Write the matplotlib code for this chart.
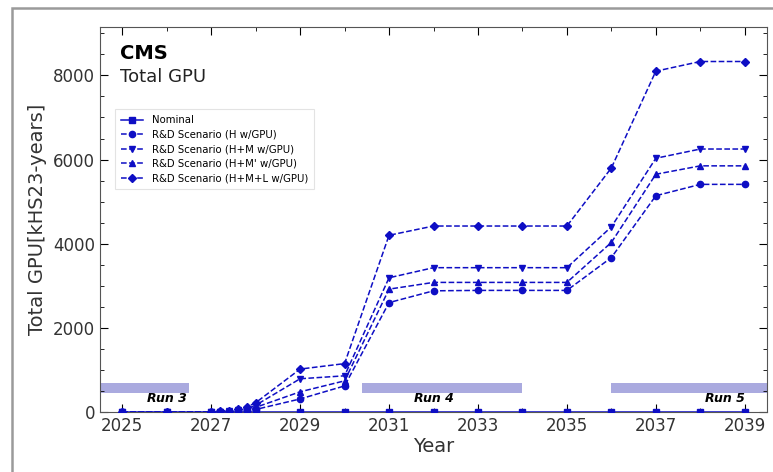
import matplotlib
matplotlib.use("Agg")
import matplotlib.pyplot as plt
from matplotlib.patches import Rectangle
from matplotlib.ticker import MultipleLocator

# --- data ---
years = [2025, 2026, 2027, 2027.2, 2027.4, 2027.6, 2027.8, 2028,
         2029, 2030, 2031, 2032, 2033, 2034, 2035, 2036, 2037, 2038, 2039]
nominal = [0] * len(years)
rd_h = [0, 0, 0, 5, 10, 20, 35, 60,
        310, 620, 2600, 2880, 2890, 2890, 2890, 3670, 5140, 5410, 5410]
rd_hm = [0, 0, 0, 10, 25, 45, 80, 160,
         790, 860, 3190, 3430, 3430, 3430, 3430, 4400, 6030, 6250, 6250]
rd_hm2 = [0, 0, 0, 8, 18, 35, 60, 110,
          480, 740, 2920, 3080, 3080, 3080, 3080, 4030, 5650, 5850, 5850]
rd_hml = [0, 0, 0, 15, 35, 65, 120, 220,
          1020, 1150, 4200, 4420, 4420, 4420, 4420, 5800, 8100, 8330, 8330]

labels = ["Nominal", "R&D Scenario (H w/GPU)", "R&D Scenario (H+M w/GPU)",
          "R&D Scenario (H+M' w/GPU)", "R&D Scenario (H+M+L w/GPU)"]

runs = ["Run 3", "Run 4", "Run 5"]
run_start = [2024.5, 2030.4, 2036.0]
run_end = [2026.5, 2034.0, 2039.5]

BLUE = "#0e0ec4"
BAND = "#aaaadf"

fig = plt.figure(figsize=(7.73, 4.72), dpi=100)
ax = fig.add_axes((100 / 773, 1 - 412 / 472, 667 / 773, 385 / 472))

# outer gray frame (cropped panel border)
fig.patches.append(Rectangle((12 / 773, -0.05), 1.2, 1 - 8 / 472 + 0.05,
                             transform=fig.transFigure, fill=False,
                             edgecolor="#9a9a9a", linewidth=1.8, zorder=0))

# run bands
for name, x0, x1 in zip(runs, run_start, run_end):
    ax.add_patch(Rectangle((x0, 440), x1 - x0, 240, facecolor=BAND,
                           edgecolor="none", zorder=1))
ax.text(2026.45, 330, "Run 3", ha="right", va="center", fontsize=9,
        fontweight="bold", fontstyle="italic", zorder=2)
ax.text(2032.0, 330, "Run 4", ha="center", va="center", fontsize=9,
        fontweight="bold", fontstyle="italic", zorder=2)
ax.text(2039.0, 330, "Run 5", ha="right", va="center", fontsize=9,
        fontweight="bold", fontstyle="italic", zorder=2)

series = [nominal, rd_h, rd_hm, rd_hm2, rd_hml]
markers = ["s", "o", "v", "^", "D"]
styles = ["-", "--", "--", "--", "--"]
sizes = [4, 4.5, 4.5, 4.5, 3.8]
for vals, m, ls, ms, lab in zip(series, markers, styles, sizes, labels):
    ax.plot(years, vals, color=BLUE, marker=m, linestyle=ls, markersize=ms,
            linewidth=1.1, label=lab, zorder=3)

ax.set_xlim(2024.5, 2039.5)
ax.set_ylim(0, 9150)
ax.xaxis.set_minor_locator(MultipleLocator(1))
ax.yaxis.set_major_locator(MultipleLocator(2000))
ax.yaxis.set_minor_locator(MultipleLocator(500))
ax.set_xticks(range(2025, 2040, 2))
ax.tick_params(which="both", direction="in", top=True, right=True,
               labelsize=12, labelcolor="#333333")
ax.tick_params(which="major", length=6)
ax.tick_params(which="minor", length=3)
for s in ax.spines.values():
    s.set_color("#555555")

ax.set_xlabel("Year", fontsize=14, color="#333333")
ax.xaxis.set_label_coords(0.5, -0.065)
ax.set_ylabel("Total GPU[kHS23-years]", fontsize=14, color="#333333")

ax.text(0.03, 0.93, "CMS", transform=ax.transAxes, fontsize=14,
        fontweight="bold", va="center")
ax.text(0.03, 0.87, "Total GPU", transform=ax.transAxes, fontsize=13,
        color="#222222", va="center")

leg = ax.legend(loc="upper left", bbox_to_anchor=(0.015, 0.8), fontsize=7.3,
                frameon=True, fancybox=False, handlelength=2.2,
                labelspacing=0.45, borderpad=0.6)
leg.get_frame().set_edgecolor("#dddddd")
leg.get_frame().set_linewidth(0.8)

fig.savefig("out.png", dpi=100)
